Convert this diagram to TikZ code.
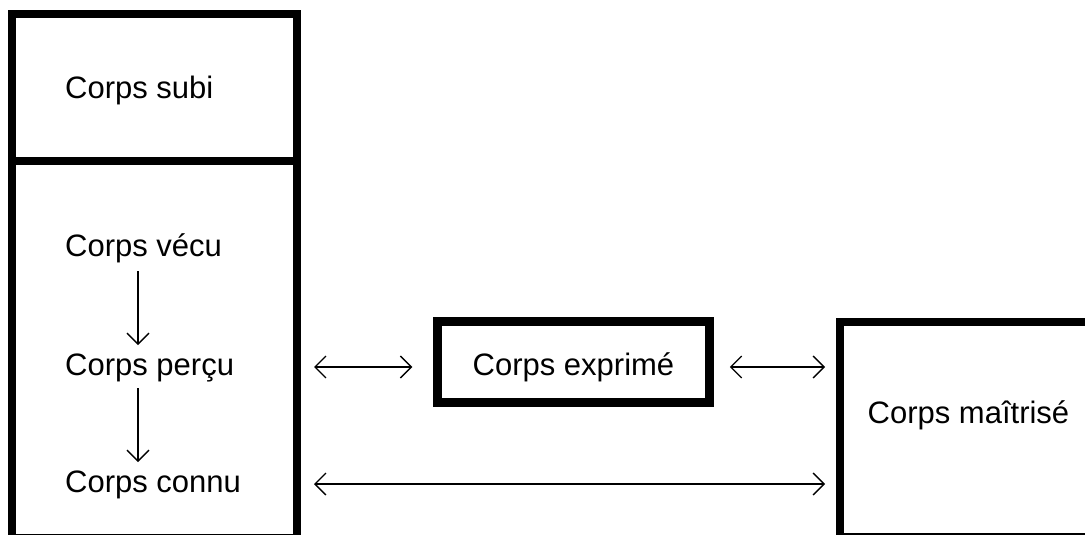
\documentclass[tikz,border=0pt]{standalone}
\usepackage{fontspec}
\setmainfont{Liberation Sans}
\usetikzlibrary{arrows.meta}

\tikzset{
  box/.style={draw,line width=8pt,rectangle,inner sep=0pt},
  lbl/.style={inner sep=0pt,font=\fontsize{31}{37}\selectfont},
  barb/.tip={Straight Barb[length=11pt,width=22pt]},
  flow/.style={-barb,line width=1.4pt},
  link/.style={barb-barb,line width=1.4pt},
}

\begin{document}
\begin{tikzpicture}[x=1pt,y=-1pt]
    \useasboundingbox (0,0) rectangle (1085,535);
    \def\ax{138}

    % Left column: two stacked boxes
    \node[box,minimum width=285pt,minimum height=146.5pt] (subibox) at (154.5,87.25) {};
    \node[box,minimum width=285pt,minimum height=377.5pt] (corpsbox) at (154.5,349.25) {};

    % Labels in the left column
    \node[lbl,anchor=base west] (subi) at (65,99) {Corps subi};
    \node[lbl,anchor=base west] (vecu) at (65,256) {Corps vécu};
    \node[lbl,anchor=base west] (percu) at (65,375) {Corps perçu};
    \node[lbl,anchor=base west] (connu) at (65,492) {Corps connu};

    % Middle and right boxes
    \node[box,line width=8.5pt,minimum width=272pt,minimum height=81pt] (exprime) at (573.5,362) {};
    \node[lbl,anchor=base] (exprimelbl) at (573.5,375) {Corps exprimé};
    \node[box,minimum width=250pt,minimum height=215pt] (maitrise) at (965,429.5) {};
    \node[lbl,anchor=base] (maitriselbl) at (968.5,423) {Corps maîtrisé};

    % Vertical arrows
    \coordinate (axis) at (\ax,0);
    \draw[flow,shorten <=8.5pt,shorten >=8pt] (vecu.south -| axis) -- (percu.north -| axis);
    \draw[flow,shorten <=6.5pt,shorten >=8pt] (percu.south -| axis) -- (connu.north -| axis);

    % Horizontal arrows
    \coordinate (rowa) at (0,367);
    \coordinate (rowb) at (0,484);
    \draw[link,shorten <=13pt,shorten >=21pt] (corpsbox.east |- rowa) -- (exprime.west |- rowa);
    \draw[link,shorten <=16pt,shorten >=11pt] (exprime.east |- rowa) -- (maitrise.west |- rowa);
    \draw[link,shorten <=13pt,shorten >=11pt] (corpsbox.east |- rowb) -- (maitrise.west |- rowb);
\end{tikzpicture}
\end{document}
